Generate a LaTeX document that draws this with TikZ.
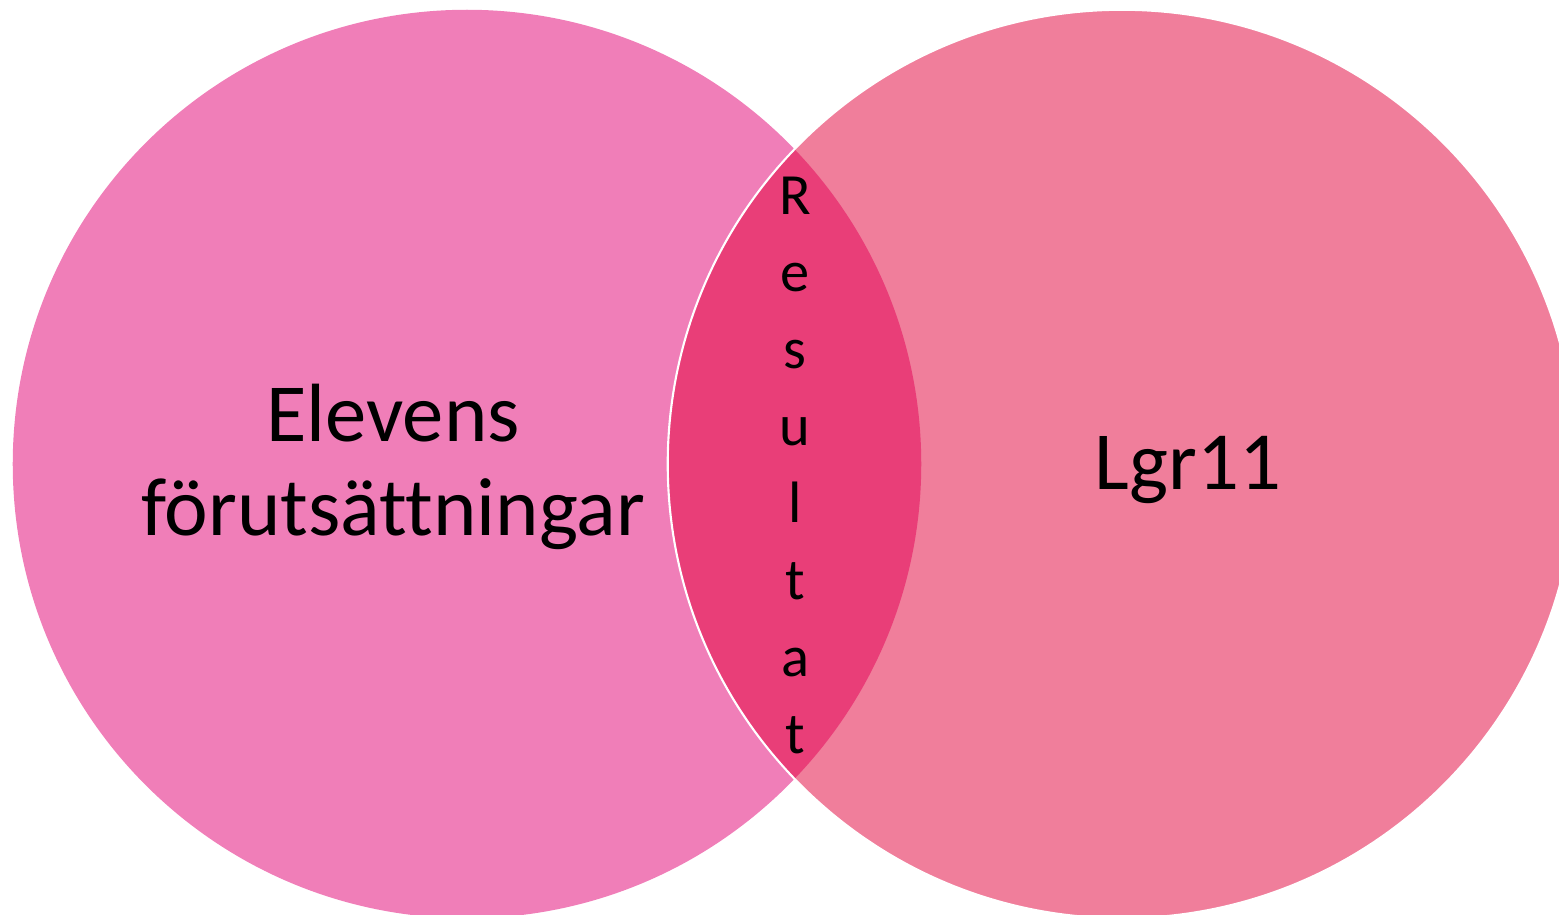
\documentclass[tikz,border=0pt]{standalone}
\usepackage{fontspec}
\setmainfont{Carlito}[Ligatures=NoCommon]
\usepackage{tikz}
\definecolor{leftpink}{HTML}{F07EB8}
\definecolor{rightpink}{HTML}{F07E9B}
\definecolor{lenspink}{HTML}{E93E78}

\begin{document}
\begin{tikzpicture}[x=0.01cm, y=-0.01cm,
		bigtext/.style={font=\fontsize{23.5}{26.5}\selectfont, align=center, anchor=base, inner sep=0pt},
		letter/.style={font=\fontsize{16.6}{20}\selectfont, anchor=base, inner sep=0pt}]
			\useasboundingbox (0,0) rectangle (1559,914);
			\fill[leftpink] (467,464) circle[radius=4.54cm];
			\fill[rightpink] (1122,464) circle[radius=4.54cm];
			\begin{scope}
				\clip (467,464) circle[radius=4.54cm];
				\fill[lenspink] (1122,464) circle[radius=4.54cm];
			\end{scope}
			\draw[white, line width=0.6pt] (1122,464) circle[radius=4.54cm];
			
			\node[bigtext] (elevens) at (393,535) {Elevens\\förutsättningar};
			\node[bigtext] (lgr) at (1188,489) {Lgr11};
			\foreach \ch [count=\i] in {R,e,s,u,l,t,a,t}
			\node[letter] (res\i) at (795,137+77*\i) {\ch};
		\end{tikzpicture}
\end{document}
